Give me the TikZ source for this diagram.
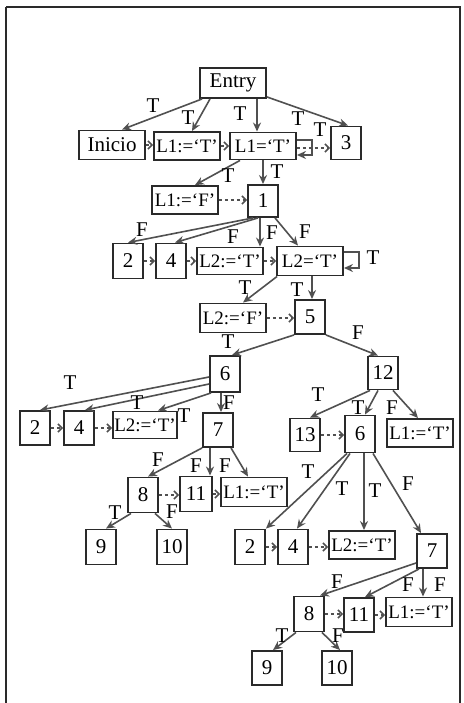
\documentclass[tikz,border=0pt]{standalone}
\usepackage{fontspec}
\setmainfont{Liberation Serif}
\usetikzlibrary{arrows.meta,calc}
\definecolor{linec}{HTML}{505050}
\definecolor{boxc}{HTML}{2a2a2a}
\tikzset{
  every node/.style={font=\fontsize{21pt}{24pt}\selectfont},
  box/.style={draw=boxc, line width=1.9pt, inner sep=0pt, fill=white},
  num/.style={box, minimum width=30pt, minimum height=34pt},
  wide/.style={box, minimum width=66pt, minimum height=28pt, font=\fontsize{19pt}{22pt}\selectfont},
  e/.style={draw=linec, line width=1.6pt, -{Stealth[length=9pt,width=8pt]}},
  d/.style={draw=linec, line width=1.3pt, dash pattern=on 3pt off 3pt, -{Straight Barb[length=4pt,width=8pt,line width=1.6pt]}},
  lbl/.style={inner sep=0pt}
}
\begin{document}
\begin{tikzpicture}[x=1pt,y=-1pt]
\useasboundingbox (0,0) rectangle (463,703);
% outer frame
\draw[boxc, line width=2.2pt] (6,703) -- (6,7);
\draw[boxc, line width=1.2pt] (6,7) -- (460,7) -- (460,703);

% nodes
\node[box, minimum width=66pt, minimum height=30pt] (entry) at (233,83) {Entry};
\node[wide, minimum height=29pt, font=\fontsize{21pt}{24pt}\selectfont] (inicio) at (112,145) {Inicio};
\node[wide] (l1t) at (187,146) {L1:=`T'};
\node[wide, minimum height=27pt] (l1eq) at (263,146) {L1=`T'};
\node[num, minimum height=33pt] (n3) at (346,143) {3};
\node[wide] (l1f) at (185,200) {L1:=`F'};
\node[num, minimum height=32pt] (n1) at (263,201) {1};
\node[num, minimum height=35pt] (n2a) at (128,261) {2};
\node[num, minimum height=35pt] (n4a) at (171,261) {4};
\node[wide, minimum height=27pt] (l2t) at (230,261) {L2:=`T'};
\node[wide, minimum height=29pt] (l2eq) at (310,261) {L2=`T'};
\node[wide, minimum height=29pt] (l2f) at (233,318) {L2:=`F'};
\node[num] (n5) at (310,317) {5};
\node[num, minimum height=36pt] (n6a) at (225,374) {6};
\node[num, minimum height=33pt] (n12) at (383,373) {12};
\node[num] (n2b) at (35,428) {2};
\node[num] (n4b) at (79,428) {4};
\node[wide, minimum width=64pt, minimum height=27pt] (l2tb) at (145,425) {L2:=`T'};
\node[num] (n7a) at (218,430) {7};
\node[num, minimum height=33pt] (n13) at (305,435) {13};
\node[num, minimum height=37pt] (n6b) at (360,434) {6};
\node[wide] (l1tc) at (420,433) {L1:=`T'};
\node[num, minimum height=35pt] (n8a) at (143,495) {8};
\node[num, minimum width=32pt, minimum height=35pt] (n11a) at (196,494) {11};
\node[wide, minimum height=29pt] (l1td) at (254,492) {L1:=`T'};
\node[num, minimum height=35pt] (n9a) at (101,547) {9};
\node[num, minimum height=35pt] (n10a) at (172,547) {10};
\node[num, minimum height=35pt] (n2c) at (250,547) {2};
\node[num, minimum height=35pt] (n4c) at (293,547) {4};
\node[wide] (l2tc) at (362,545) {L2:=`T'};
\node[num] (n7b) at (432,551) {7};
\node[num, minimum height=35pt] (n8b) at (309,614) {8};
\node[num] (n11b) at (359,615) {11};
\node[wide, minimum height=29pt] (l1te) at (419,612) {L1:=`T'};
\node[num] (n9b) at (267,668) {9};
\node[num] (n10b) at (337,668) {10};

% Entry
\draw[e] ([xshift=3pt]entry.south west) -- ([xshift=10pt]inicio.north);
\draw[e] ([xshift=-23pt]entry.south) -- ([xshift=5pt]l1t.north);
\draw[e] ([xshift=24pt]entry.south) -- ([xshift=24pt]entry.south |- l1eq.north);
\draw[e] ([yshift=2pt]entry.south east) -- ([xshift=2pt]n3.north);
\node[lbl] (tE1) at (153,106) {T};
\node[lbl] (tE2) at (188,118) {T};
\node[lbl] (tE3) at (240,114) {T};
\node[lbl] (tE4) at (298,119) {T};
\draw[d] (inicio.east) -- (inicio.east -| l1t.west);
\draw[d] (l1t.east) -- (l1t.east -| l1eq.west);
\draw[d] ([yshift=-2pt]l1eq.east) -- ([yshift=-2pt]l1eq.east -| n3.west);
\draw[e] ([yshift=6pt]l1eq.east) -- ++(15,0) -- ++(0,15) -- ++(-15,0);
\node[lbl] (tL1) at (320,130) {T};

% L1='T'
\draw[e] ([xshift=-23pt]l1eq.south) -- ([xshift=10pt]l1f.north);
\draw[e] (l1eq.south) -- (n1.north);
\node[lbl] (tA1) at (228,176) {T};
\node[lbl] (tA2) at (277,172) {T};
\draw[d] (l1f.east) -- (l1f.east -| n1.west);

% 1
\draw[e] ([xshift=-10pt]n1.south) -- (n2a.north);
\draw[e] ([xshift=-5pt]n1.south) -- ([xshift=4pt]n4a.north);
\draw[e] ([xshift=-3pt]n1.south) -- ([xshift=-3pt]n1.south |- l2t.north);
\draw[e] ([xshift=12pt]n1.south) -- ([xshift=-12pt]l2eq.north);
\node[lbl] (fB1) at (142,230) {F};
\node[lbl] (fB2) at (233,237) {F};
\node[lbl] (fB3) at (272,233) {F};
\node[lbl] (fB4) at (305,232) {F};
\draw[d] (n2a.east) -- (n2a.east -| n4a.west);
\draw[d] (n4a.east) -- (n4a.east -| l2t.west);
\draw[d] (l2t.east) -- (l2t.east -| l2eq.west);
\draw[e] ([yshift=9pt]l2eq.east) -- ++(15,0) -- ++(0,16) -- ++(-15,0);
\node[lbl] (tL2) at (373,258) {T};

% L2='T'
\draw[e] ([xshift=1pt]l2eq.south west) -- ([xshift=10pt]l2f.north);
\draw[e] ([xshift=2pt]l2eq.south) -- ([xshift=2pt]l2eq.south |- n5.north);
\node[lbl] (tC1) at (245,288) {T};
\node[lbl] (tC2) at (297,290) {T};
\draw[d] (l2f.east) -- (l2f.east -| n5.west);

% 5
\draw[e] (n5.south west) -- ([xshift=7pt]n6a.north);
\draw[e] (n5.south east) -- ([xshift=-5pt]n12.north);
\node[lbl] (tD1) at (228,342) {T};
\node[lbl] (fD2) at (358,333) {F};

% 6 (left)
\draw[e] ([yshift=-3pt]n6a.west) -- ([xshift=5pt]n2b.north);
\draw[e] ([yshift=-10pt]n6a.west) -- ([xshift=6pt]n4b.north);
\draw[e] ([xshift=2pt]n6a.south west) -- ([xshift=13pt]l2tb.north);
\draw[e] ([xshift=-4pt]n6a.south) -- ([xshift=-4pt]n6a.south |- n7a.north);
\node[lbl] (tF1) at (70,383) {T};
\node[lbl] (tF2) at (137,403) {T};
\node[lbl] (tF3) at (184,416) {T};
\node[lbl] (fF4) at (229,403) {F};
\draw[d] (n2b.east) -- (n2b.east -| n4b.west);
\draw[d] (n4b.east) -- (n4b.east -| l2tb.west);

% 12
\draw[e] ([xshift=-13pt]n12.south) -- ([xshift=5pt]n13.north);
\draw[e] ([xshift=-5pt]n12.south) -- ([xshift=5pt]n6b.north);
\draw[e] ([xshift=10pt]n12.south) -- ([xshift=-2pt]l1tc.north);
\node[lbl] (tG1) at (318,395) {T};
\node[lbl] (tG2) at (358,408) {T};
\node[lbl] (fG3) at (392,408) {F};
\draw[d] (n13.east) -- (n13.east -| n6b.west);

% 7 (left)
\draw[e] (n7a.south west) -- ([xshift=5pt]n8a.north);
\draw[e] ([xshift=-8pt]n7a.south) -- ([xshift=-8pt]n7a.south |- n11a.north);
\draw[e] ([xshift=13pt]n7a.south) -- ([xshift=-6pt]l1td.north);
\node[lbl] (fH1) at (158,460) {F};
\node[lbl] (fH2) at (196,466) {F};
\node[lbl] (fH3) at (225,466) {F};
\draw[d] (n8a.east) -- (n8a.east -| n11a.west);
\draw[d] (n11a.east) -- (n11a.east -| l1td.west);

% 8 (left)
\draw[e] ([xshift=-12pt]n8a.south) -- ([xshift=5pt]n9a.north);
\draw[e] ([xshift=12pt]n8a.south) -- (n10a.north);
\node[lbl] (tI1) at (115,513) {T};
\node[lbl] (fI2) at (172,512) {F};

% 6 (right)
\draw[e] ([xshift=-13pt]n6b.south) -- (n2c.north east);
\draw[e] ([xshift=-10pt]n6b.south) -- ([xshift=4pt]n4c.north);
\draw[e] ([xshift=4pt]n6b.south) -- ([xshift=4pt]n6b.south |- l2tc.north);
\draw[e] ([xshift=13pt]n6b.south) -- ([xshift=-11pt]n7b.north);
\node[lbl] (tJ1) at (308,472) {T};
\node[lbl] (tJ2) at (342,489) {T};
\node[lbl] (tJ3) at (375,491) {T};
\node[lbl] (fJ4) at (408,484) {F};
\draw[d] (n2c.east) -- (n2c.east -| n4c.west);
\draw[d] (n4c.east) -- (n4c.east -| l2tc.west);

% 7 (right)
\draw[e] ([yshift=-12pt]n7b.west) -- ([xshift=11pt]n8b.north);
\draw[e] ([xshift=-13pt]n7b.south) -- ([xshift=6pt]n11b.north);
\draw[e] ([xshift=-9pt]n7b.south) -- ([xshift=-9pt]n7b.south |- l1te.north);
\node[lbl] (fK1) at (337,582) {F};
\node[lbl] (fK2) at (408,585) {F};
\node[lbl] (fK3) at (440,585) {F};
\draw[d] (n8b.east) -- (n8b.east -| n11b.west);
\draw[d] (n11b.east) -- (n11b.east -| l1te.west);

% 8 (right)
\draw[e] ([xshift=-13pt]n8b.south) -- ([xshift=6pt]n9b.north);
\draw[e] ([xshift=13pt]n8b.south) -- ([xshift=3pt]n10b.north);
\node[lbl] (tM1) at (282,636) {T};
\node[lbl] (fM2) at (338,636) {F};
\end{tikzpicture}
\end{document}
